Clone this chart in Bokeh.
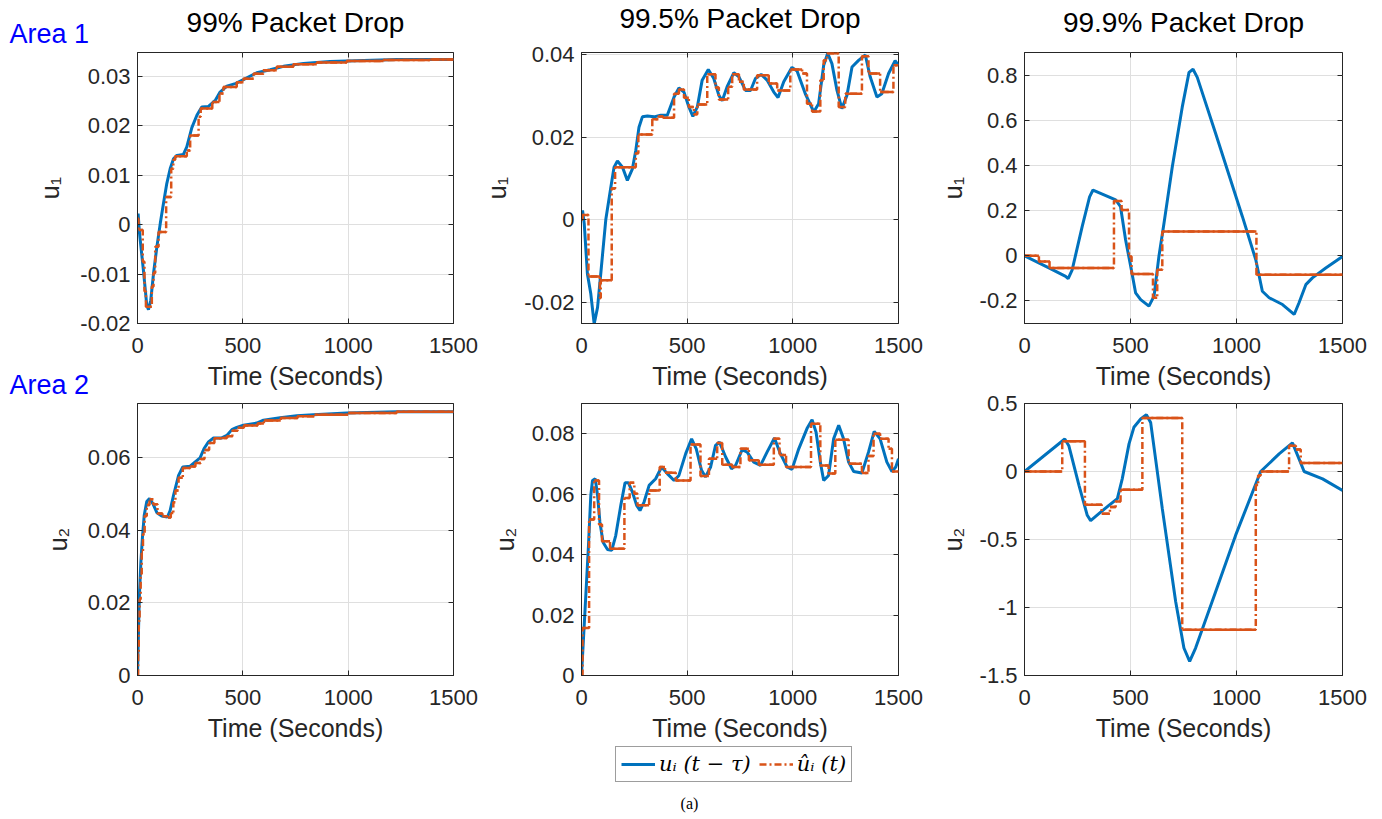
import numpy as np
from bokeh.plotting import figure
from bokeh.layouts import column, row
from bokeh.models import (Range1d, FixedTicker, CustomJSTickFormatter, LinearAxis,
                          Legend, LegendItem, Title, Label)
from bokeh.embed import file_html
from bokeh.resources import INLINE

# ---------------- data ----------------
X_TICKS = [0, 500, 1000, 1500]
TITLES = ["99% Packet Drop", "99.5% Packet Drop", "99.9% Packet Drop"]
ROW_LABELS = ["Area 1", "Area 2"]
Y_LABELS = ["u\u2081", "u\u2082"]
X_LABEL = "Time (Seconds)"
FIG_TAG = "(a)"

# Area 1, 99 %
a1_99_t = [0, 3, 9, 28, 44, 52, 63, 76, 92, 108, 123, 139, 155, 171, 187, 218, 234, 258, 282, 305, 337,
           369, 392, 424, 464, 503, 566, 630, 693, 788, 914, 1073, 1231, 1500]
a1_99_u = [0.0005, 0.0022, -0.0015, -0.0092, -0.0163, -0.0172, -0.0153, -0.0099, -0.0045, 0.0002, 0.0042,
           0.0083, 0.0113, 0.0133, 0.014, 0.0142, 0.0157, 0.0196, 0.0221, 0.0238, 0.0239, 0.0251, 0.0268,
           0.028, 0.0285, 0.0293, 0.0307, 0.0313, 0.032, 0.0326, 0.033, 0.0332, 0.0334, 0.0334]
a1_99_ts = [0, 5, 25, 33, 40, 68, 76, 84, 100, 136, 160, 170, 179, 234, 250, 290, 300, 355, 389, 408,
            471, 503, 551, 598, 661, 740, 851, 993, 1168, 1389, 1500]
a1_99_uh = [0.0012, -0.0011, -0.0075, -0.0135, -0.0166, -0.0125, -0.0098, -0.0045, -0.0015, 0.0056,
            0.0113, 0.0131, 0.0138, 0.015, 0.018, 0.0218, 0.0235, 0.0248, 0.0265, 0.0278, 0.0288, 0.0295,
            0.0305, 0.0312, 0.0319, 0.0324, 0.0328, 0.0331, 0.0333, 0.0334, 0.0334]

# Area 1, 99.5 %
a1_995_t = [0, 5, 13, 28, 44, 60, 76, 91, 115, 139, 154, 170, 194, 217, 241, 257, 272, 288, 312, 343, 375,
            406, 438, 461, 485, 508, 527, 548, 571, 600, 626, 650, 666, 689, 721, 745, 776, 800, 823, 850,
            878, 910, 930, 957, 996, 1020, 1059, 1099, 1122, 1146, 1165, 1185, 1209, 1232, 1256, 1280,
            1311, 1343, 1366, 1398, 1421, 1453, 1484, 1500]
a1_995_u = [0, 0.0022, -0.001, -0.0132, -0.018, -0.0253, -0.0213, -0.0132, 0, 0.0079, 0.0127, 0.0142,
            0.0127, 0.0095, 0.0123, 0.0168, 0.0224, 0.0249, 0.0251, 0.0249, 0.0253, 0.0253, 0.0297, 0.0319,
            0.0309, 0.0273, 0.025, 0.0273, 0.0338, 0.0364, 0.0342, 0.0301, 0.0288, 0.0322, 0.0356, 0.0346,
            0.0313, 0.0313, 0.0342, 0.0352, 0.0338, 0.0309, 0.0296, 0.0334, 0.0369, 0.036, 0.0305, 0.0261,
            0.0281, 0.0374, 0.0403, 0.0378, 0.0313, 0.0269, 0.0301, 0.037, 0.0386, 0.0399, 0.0346, 0.0297,
            0.0305, 0.0354, 0.0385, 0.0374]
a1_995_ts = [0, 5, 33, 87, 91, 143, 159, 257, 269, 335, 364, 386, 438, 461, 485, 508, 532, 548, 595, 634,
             650, 694, 713, 745, 768, 831, 886, 926, 988, 1044, 1067, 1091, 1130, 1146, 1162, 1217, 1248,
             1327, 1358, 1413, 1476, 1500]
a1_995_uh = [0, 0.0011, -0.0138, -0.019, -0.0147, 0.0075, 0.0127, 0.0161, 0.0206, 0.0243, 0.025, 0.0247,
             0.0305, 0.0315, 0.0295, 0.0273, 0.0255, 0.0279, 0.0352, 0.032, 0.0291, 0.0322, 0.0352, 0.0334,
             0.0315, 0.035, 0.033, 0.0313, 0.0364, 0.0354, 0.0281, 0.0262, 0.0338, 0.0386, 0.0403, 0.0273,
             0.0305, 0.0396, 0.0354, 0.0309, 0.0374, 0.0374]

# Area 1, 99.9 %
a1_999_t = [0, 115, 194, 206, 225, 272, 307, 323, 367, 430, 453, 477, 501, 524, 548, 587, 611, 634, 658,
            697, 744, 776, 795, 815, 902, 1028, 1091, 1122, 1154, 1217, 1272, 1295, 1327, 1358, 1421, 1500]
a1_999_u = [0, -0.054, -0.091, -0.101, -0.062, 0.129, 0.261, 0.291, 0.273, 0.247, 0.217, 0.07, -0.047,
            -0.164, -0.194, -0.223, -0.179, -0.003, 0.144, 0.393, 0.658, 0.812, 0.826, 0.79, 0.54, 0.173,
            -0.018, -0.157, -0.186, -0.216, -0.26, -0.208, -0.128, -0.098, -0.054, -0.003]
a1_999_ts = [0, 68, 118, 422, 458, 493, 505, 606, 626, 650, 1094, 1500]
a1_999_uh = [0, -0.025, -0.054, 0.242, 0.203, -0.003, -0.081, -0.186, -0.062, 0.107, -0.084, -0.084]

# Area 2, 99 %
a2_99_t = [0, 5, 9, 16, 24, 32, 44, 57, 73, 92, 115, 142, 155, 171, 195, 215, 250, 274, 297, 316, 337,
           361, 400, 424, 448, 471, 503, 566, 598, 677, 756, 835, 993, 1231, 1500]
a2_99_u = [0, 0.0129, 0.0221, 0.0313, 0.0386, 0.0442, 0.048, 0.0488, 0.0474, 0.0449, 0.044, 0.0437,
           0.0455, 0.0497, 0.0552, 0.0575, 0.0577, 0.0589, 0.06, 0.0626, 0.0644, 0.0655, 0.0655, 0.0662,
           0.0678, 0.0684, 0.069, 0.0696, 0.0704, 0.0711, 0.0716, 0.0719, 0.0724, 0.0727, 0.0727]
a2_99_ts = [0, 3, 6, 10, 15, 20, 26, 34, 44, 57, 75, 95, 118, 145, 158, 170, 180, 195, 215, 250, 275, 300,
            318, 340, 365, 400, 425, 450, 475, 505, 570, 600, 680, 760, 840, 1000, 1230, 1500]
a2_99_uh = [0, 0.006, 0.015, 0.021, 0.028, 0.034, 0.039, 0.044, 0.047, 0.0486, 0.0472, 0.0447, 0.0439,
            0.0436, 0.0448, 0.0478, 0.051, 0.0545, 0.0572, 0.0576, 0.0586, 0.0597, 0.0622, 0.0641, 0.0654,
            0.0655, 0.066, 0.0675, 0.0683, 0.0689, 0.0695, 0.0703, 0.071, 0.0715, 0.0719, 0.0724, 0.0727,
            0.0727]

# Area 2, 99.5 %
a2_995_t = [0, 5, 17, 33, 44, 52, 65, 76, 87, 102, 123, 143, 162, 186, 206, 222, 241, 261, 277, 296, 320,
            351, 379, 406, 438, 461, 493, 521, 543, 568, 587, 611, 634, 653, 682, 710, 729, 760, 784, 815,
            847, 878, 913, 941, 973, 996, 1028, 1067, 1091, 1110, 1130, 1146, 1169, 1193, 1217, 1240, 1264,
            1288, 1327, 1358, 1385, 1413, 1445, 1469, 1487, 1500]
a2_995_u = [0, 0.0066, 0.022, 0.043, 0.0596, 0.0645, 0.0651, 0.0596, 0.0508, 0.0441, 0.0417, 0.0414,
            0.0463, 0.0563, 0.0638, 0.0638, 0.0607, 0.0563, 0.0546, 0.0574, 0.0629, 0.0651, 0.069, 0.0668,
            0.0645, 0.0662, 0.0734, 0.0783, 0.075, 0.0679, 0.0657, 0.069, 0.0761, 0.0772, 0.0723, 0.0684,
            0.0695, 0.0747, 0.0739, 0.0706, 0.0695, 0.0739, 0.0786, 0.0734, 0.069, 0.0682, 0.075, 0.0817,
            0.0846, 0.0805, 0.0706, 0.0645, 0.0662, 0.0783, 0.0828, 0.0783, 0.0706, 0.0675, 0.067, 0.0739,
            0.0808, 0.0783, 0.0706, 0.0675, 0.069, 0.0717]
a2_995_ts = [0, 5, 36, 60, 83, 97, 135, 203, 228, 250, 265, 320, 370, 395, 446, 516, 563, 603, 642, 666,
             713, 752, 792, 839, 910, 937, 968, 1086, 1130, 1169, 1201, 1264, 1327, 1358, 1382, 1413, 1453,
             1469, 1500]
a2_995_uh = [0, 0.0157, 0.0516, 0.0645, 0.05, 0.0444, 0.0419, 0.0587, 0.0638, 0.0601, 0.0563, 0.0612,
             0.069, 0.0671, 0.0645, 0.0764, 0.066, 0.0717, 0.0769, 0.0697, 0.069, 0.075, 0.0712, 0.0697,
             0.0783, 0.073, 0.069, 0.0833, 0.0695, 0.0668, 0.078, 0.0701, 0.067, 0.0726, 0.08, 0.0783,
             0.075, 0.0675, 0.0675]

# Area 2, 99.9 %
a2_999_t = [0, 190, 209, 257, 296, 312, 351, 398, 438, 461, 493, 516, 548, 575, 595, 650, 713, 752, 779,
            807, 902, 996, 1114, 1201, 1264, 1295, 1319, 1406, 1500]
a2_999_u = [0, 0.239, 0.19, -0.102, -0.322, -0.361, -0.31, -0.249, -0.2, -0.054, 0.203, 0.325, 0.386,
            0.417, 0.361, -0.273, -0.956, -1.298, -1.396, -1.298, -0.883, -0.468, 0, 0.129, 0.21, 0.093,
            0, -0.054, -0.14]
a2_999_ts = [0, 178, 285, 364, 403, 430, 453, 556, 744, 1091, 1102, 1114, 1248, 1280, 1303, 1500]
a2_999_uh = [0, 0.222, -0.244, -0.31, -0.261, -0.22, -0.134, 0.393, -1.164, -0.1, -0.029, 0, 0.19, 0.161,
             0.063, 0.063]

Y_RANGES = [[(-0.02, 0.0348), (-0.0252, 0.0405), (-0.3, 0.9)],
            [(0, 0.075), (0, 0.09), (-1.5, 0.5)]]
Y_TICKS = [[[-0.02, -0.01, 0, 0.01, 0.02, 0.03], [-0.02, 0, 0.02, 0.04], [-0.2, 0, 0.2, 0.4, 0.6, 0.8]],
           [[0, 0.02, 0.04, 0.06], [0, 0.02, 0.04, 0.06, 0.08], [-1.5, -1, -0.5, 0, 0.5]]]
SERIES = [[(a1_99_t, a1_99_u, a1_99_ts, a1_99_uh), (a1_995_t, a1_995_u, a1_995_ts, a1_995_uh),
           (a1_999_t, a1_999_u, a1_999_ts, a1_999_uh)],
          [(a2_99_t, a2_99_u, a2_99_ts, a2_99_uh), (a2_995_t, a2_995_u, a2_995_ts, a2_995_uh),
           (a2_999_t, a2_999_u, a2_999_ts, a2_999_uh)]]
LEGEND_LABELS = ["u\u1d62 (t \u2212 \u03c4)", "\u00fb\u1d62 (t)"]

# ---------------- style / geometry ----------------
BLUE = "#0072BD"
ORANGE = "#D95319"
AX = "#262626"
FONT = "Liberation Sans"
DASHDOT = "7 3 2 3"

COL_W = [480, 455, 447]
COL_L = [137, 101, 89]
COL_R = [27, 37, 40]
YLAB_STANDOFF = [13, 10, 10]
TITLE_STANDOFF = [-91, -99, -91]     # titles hang from the top border ("top" alignment)
# per column: (top, frame, bottom) for row 0 and row 1
GEOM = [[(52, 271, 78), (2, 272, 70)],
        [(52, 271, 78), (2, 272, 70)],
        [(52, 271, 69), (11, 272, 70)]]


def style_axis(ax, standoff, label_standoff, label_size):
    ax.axis_line_color = AX
    ax.major_tick_line_color = AX
    ax.major_tick_in = 5
    ax.major_tick_out = 0
    ax.minor_tick_line_color = None
    ax.major_label_text_font = FONT
    ax.major_label_text_font_size = "22px"
    ax.major_label_text_color = AX
    ax.major_label_standoff = standoff
    ax.axis_label_text_font = FONT
    ax.axis_label_text_font_size = label_size
    ax.axis_label_text_font_style = "normal"
    ax.axis_label_text_color = AX
    ax.axis_label_standoff = label_standoff
    ax.formatter = CustomJSTickFormatter(code="return tick.toString()")


def make_panel(r, c):
    tb, ub, ts, uh = SERIES[r][c]
    yr = Y_RANGES[r][c]
    top, fh, bot = GEOM[c][r]
    p = figure(width=COL_W[c], height=top + fh + bot, output_backend="svg", toolbar_location=None,
               x_range=Range1d(0, 1500), y_range=Range1d(*yr),
               min_border_left=COL_L[c], min_border_right=COL_R[c],
               min_border_top=top, min_border_bottom=bot)
    p.outline_line_color = AX
    p.outline_line_width = 1
    p.grid.grid_line_color = "#dfdfdf"
    p.xaxis.ticker = FixedTicker(ticks=X_TICKS)
    p.yaxis.ticker = FixedTicker(ticks=Y_TICKS[r][c])
    style_axis(p.xaxis[0], 14, 6, "25px")
    style_axis(p.yaxis[0], 7, YLAB_STANDOFF[c], "25px")
    p.xaxis.axis_label = X_LABEL
    p.yaxis.axis_label = Y_LABELS[r]
    # tick marks on the top and right edges of the box
    for loc, tk in (("right", Y_TICKS[r][c]), ("above", X_TICKS)):
        ax = LinearAxis(ticker=FixedTicker(ticks=tk),
                        formatter=CustomJSTickFormatter(code="return ''"),
                        axis_line_color=None, major_tick_line_color=AX, major_tick_in=5,
                        major_tick_out=0, minor_tick_line_color=None, major_label_standoff=0)
        p.add_layout(ax, loc)
    if r == 0 and c == 0:
        # row labels, placed in the left margin
        p.add_layout(Title(text=ROW_LABELS[0], align="left", offset=-128, text_font=FONT,
                           text_font_size="27px", text_font_style="normal", text_color="#0000FF",
                           vertical_align="top", standoff=-68), "above")
        p.add_layout(Title(text=ROW_LABELS[1], align="left", offset=-128, text_font=FONT,
                           text_font_size="27px", text_font_style="normal", text_color="#0000FF",
                           vertical_align="top", standoff=-46), "below")
    if r == 0:
        p.title.text = TITLES[c]
        p.title.align = "center"
        p.title.vertical_align = "top"
        p.title.text_font = FONT
        p.title.text_font_size = "28px"
        p.title.text_font_style = "normal"
        p.title.text_color = "black"
        p.title.standoff = TITLE_STANDOFF[c]

    tb = np.asarray(tb, float); ub = np.asarray(ub, float)
    ts = np.asarray(ts, float); uh = np.asarray(uh, float)
    p.line(tb, ub, line_color=BLUE, line_width=3)
    p.step(ts, uh, mode="after", line_color=ORANGE, line_width=2.5, line_dash=DASHDOT)
    p.segment(x0=ts[:-1], x1=ts[1:], y0=uh[:-1], y1=uh[:-1], line_color=ORANGE, line_width=2.5)
    return p


cols = []
for c in range(3):
    cols.append(column(make_panel(0, c), make_panel(1, c)))

# legend strip (legend proxies carry a real series but are hidden)
lf = figure(width=1382, height=74, output_backend="svg", toolbar_location=None,
            x_range=Range1d(0, 1382), y_range=Range1d(0, 74),
            x_axis_location=None, y_axis_location=None,
            min_border_left=0, min_border_right=0, min_border_top=0, min_border_bottom=0)
lf.grid.visible = False
lf.outline_line_color = None
lb = lf.line(a2_995_t, a2_995_u, line_color=BLUE, line_width=3, visible=False)
lo = lf.step(a2_995_ts, a2_995_uh, mode="after", line_color=ORANGE, line_width=2.5,
             line_dash=DASHDOT, visible=False)
leg = Legend(items=[LegendItem(label=LEGEND_LABELS[0], renderers=[lb]),
                    LegendItem(label=LEGEND_LABELS[1], renderers=[lo])],
             orientation="horizontal", location=(615, 37),
             glyph_width=34, glyph_height=20, label_standoff=4, spacing=8, padding=5, margin=0,
             label_text_font="DejaVu Serif", label_text_font_style="italic",
             label_text_font_size="21px", label_text_color="black",
             border_line_color="#3c3c3c", border_line_width=1, background_fill_alpha=1)
lf.add_layout(leg)
lf.add_layout(Label(x=689, y=16, text=FIG_TAG, text_font="Liberation Serif", text_font_size="16px",
                    text_color="black", text_align="center", text_baseline="middle"))

layout = column(row(*cols), lf)
open("out.html", "w").write(file_html(layout, INLINE))
